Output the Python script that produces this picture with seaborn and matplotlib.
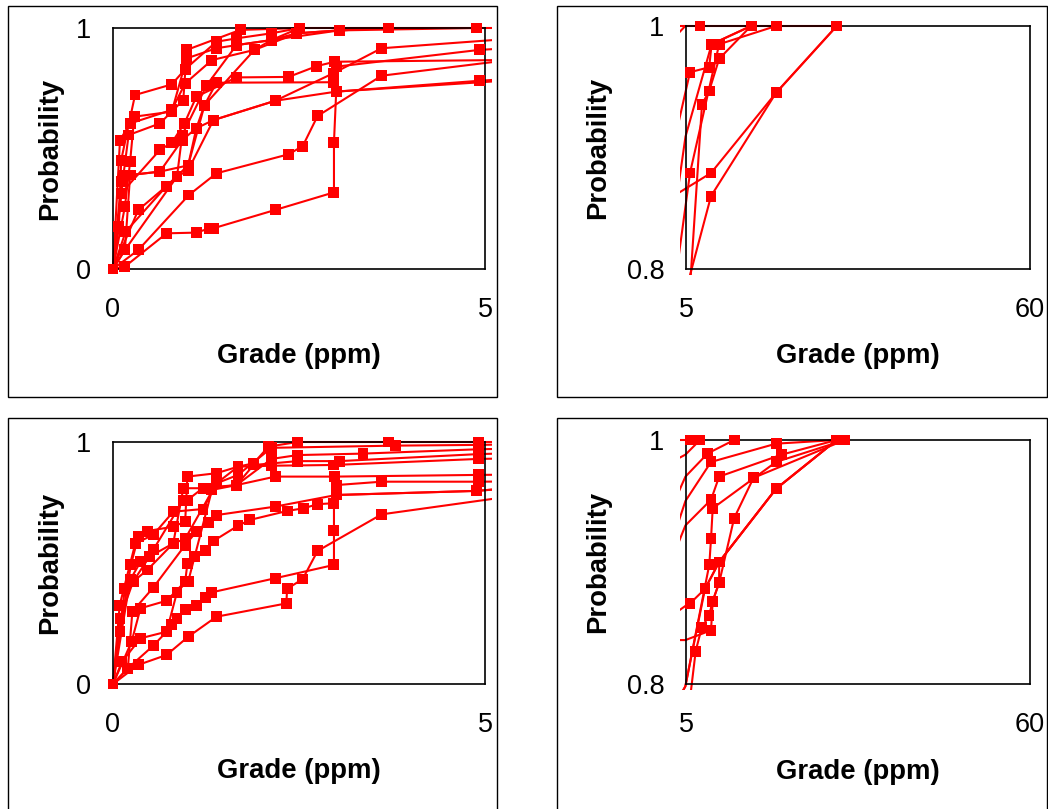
import matplotlib
matplotlib.use("Agg")
import matplotlib.pyplot as plt
from matplotlib.patches import Rectangle
import pandas as pd
import seaborn as sns

# ─────────────── Data: grade (ppm) vs cumulative probability ───────────────
top_grade = [
    [0, 0.16, 0.72, 1.12, 1.30, 1.35, 2.18, 2.97, 2.97, 3.00, 4.92, 9.0, 19.4, 29.1],
    [0, 0.34, 1.02, 1.39, 2.36, 2.55, 2.75, 3.61, 5.64, 10.3, 19.4],
    [0, 0.17, 0.72, 1.01, 1.12, 1.23, 1.39, 2.96, 3.01, 4.92, 9.1, 15.4],
    [0, 0.16, 0.86, 1.01, 1.35, 2.18, 2.96, 3.61, 5.64, 8.7, 9.1, 15.4],
    [0, 0.11, 0.63, 0.79, 0.96, 1.12, 1.66, 2.36, 2.74, 2.98, 9.0, 19.4, 29.1],
    [0, 0.08, 0.11, 0.296, 0.79, 0.97, 1.39, 1.66, 2.13, 2.51],
    [0, 0.16, 0.23, 0.286, 0.79, 0.99, 1.39, 1.66, 2.13, 2.47, 3.04, 3.70],
    [0, 0.14, 0.21, 0.63, 0.945, 0.99, 1.71, 2.51, 3.70, 4.89, 7.24, 15.4, 29.1],
    [0, 0.094, 0.23, 0.79, 0.97, 1.33, 1.9, 2.13, 3.04, 4.89],
    [0, 0.34, 0.72, 0.86, 0.93, 1.26, 1.66, 2.13, 2.51],
    [0, 0.16, 0.23, 0.63, 1.01, 1.23, 1.9, 2.47, 3.04, 3.70],
    [0, 0.11, 0.23, 0.63, 0.93, 1.12, 1.35, 2.18, 3.0, 5.7, 7.56, 8.7, 10.3, 15.4],
]
top_prob = [
    [0, 0.01, 0.148, 0.151, 0.169, 0.169, 0.245, 0.318, 0.526, 0.736, 0.781, 0.860, 0.945, 1.0],
    [0, 0.079, 0.307, 0.397, 0.476, 0.51, 0.635, 0.802, 0.879, 0.985, 1.0],
    [0, 0.155, 0.344, 0.43, 0.584, 0.68, 0.773, 0.775, 0.84, 0.909, 0.985, 1.0],
    [0, 0.079, 0.383, 0.41, 0.618, 0.698, 0.812, 0.916, 0.962, 0.966, 0.985, 1.0],
    [0, 0.314, 0.494, 0.524, 0.604, 0.715, 0.795, 0.797, 0.842, 0.86, 0.879, 0.945, 1.0],
    [0, 0.176, 0.452, 0.722, 0.766, 0.829, 0.943, 0.957, 0.978, 1.0],
    [0, 0.259, 0.445, 0.632, 0.653, 0.874, 0.916, 0.929, 0.95, 0.978, 0.99, 1.0],
    [0, 0.39, 0.556, 0.604, 0.701, 0.909, 0.992, 1.0, 1.0, 1.0, 1.0, 1.0, 1.0],
    [0, 0.535, 0.604, 0.66, 0.77, 0.867, 0.909, 0.95, 0.99, 1.0],
    [0, 0.245, 0.344, 0.383, 0.556, 0.763, 0.929, 0.95, 1.0],
    [0, 0.079, 0.39, 0.404, 0.43, 0.68, 0.909, 0.978, 0.99, 1.0],
    [0, 0.362, 0.39, 0.404, 0.535, 0.584, 0.618, 0.698, 0.736, 0.79, 0.9355, 0.9465, 0.973, 1.0],
]

bottom_grade = [
    [0, 0.34, 0.72, 1.01, 1.39, 2.33, 2.34, 2.55, 2.75, 3.61, 6.55, 7.5, 8.68, 9.27, 10.3, 10.3, 19.4, 29.1],
    [0, 0.2, 0.54, 0.72, 0.79, 0.86, 0.97, 1.12, 1.24, 1.33, 2.18, 2.97, 2.97, 2.97, 3.0, 4.89, 8.04, 10.3, 19.4, 29.1],
    [0, 0.25, 0.37, 0.72, 0.97, 1.0, 1.10, 1.24, 1.35, 1.68, 1.84, 2.34, 2.56, 2.75, 2.96, 3.0, 3.61, 4.91, 9.0, 9.27, 10.3, 12.7, 15.8, 30.4],
    [0, 0.094, 0.24, 0.34, 0.46, 0.81, 0.97, 1.0, 1.39, 1.68, 1.89, 2.09, 2.48, 3.70, 4.91, 5.75],
    [0, 0.09, 0.30, 0.54, 0.81, 1.21, 1.39, 1.68, 2.13, 3.80, 4.91, 7.24],
    [0, 0.16, 0.27, 0.49, 0.81, 0.945, 1.21, 1.33, 1.66, 2.13, 2.48, 3.36, 4.91, 8.47, 12.7],
    [0, 0.23, 0.37, 0.54, 0.945, 1.0, 1.21, 1.66, 1.89, 2.48, 3.04, 4.91, 9.0, 19.4, 29.1],
    [0, 0.2, 0.26, 0.54, 0.97, 1.12, 1.28, 1.39, 2.18, 3.0, 4.89, 8.73, 9.0, 9.27, 19.4, 30.4],
    [0, 0.094, 0.27, 0.46, 0.81, 0.97, 1.39, 1.68, 2.13, 2.96, 4.91, 9.0, 10.3, 20.3, 29.1],
    [0, 0.12, 0.37, 0.72, 0.86, 0.99, 1.01, 1.33, 1.66, 2.18, 2.98, 4.91, 5.64, 8.04, 10.3, 19.4, 29.1],
]
bottom_prob = [
    [0, 0.079, 0.12, 0.195, 0.278, 0.333, 0.393, 0.434, 0.55, 0.701, 0.827, 0.846, 0.856, 0.868, 0.883, 0.900, 0.960, 1.0],
    [0, 0.065, 0.158, 0.216, 0.244, 0.271, 0.306, 0.326, 0.357, 0.379, 0.437, 0.492, 0.633, 0.747, 0.781, 0.798, 0.878, 0.900, 0.960, 1.0],
    [0, 0.175, 0.313, 0.344, 0.423, 0.498, 0.526, 0.55, 0.591, 0.654, 0.678, 0.715, 0.726, 0.743, 0.747, 0.822, 0.836, 0.836, 0.844, 0.868, 0.883, 0.936, 0.969, 1.0],
    [0, 0.216, 0.492, 0.609, 0.632, 0.65, 0.671, 0.857, 0.871, 0.898, 0.912, 0.981, 1.0, 1.0, 1.0, 1.0],
    [0, 0.326, 0.581, 0.616, 0.712, 0.723, 0.829, 0.864, 0.976, 0.985, 0.988, 1.0],
    [0, 0.395, 0.423, 0.526, 0.581, 0.809, 0.809, 0.81, 0.822, 0.93, 0.946, 0.952, 0.97, 0.989, 1.0],
    [0, 0.43, 0.505, 0.554, 0.76, 0.76, 0.81, 0.822, 0.905, 0.921, 0.921, 0.95, 0.982, 0.997, 1.0],
    [0, 0.065, 0.299, 0.398, 0.574, 0.629, 0.668, 0.698, 0.733, 0.781, 0.798, 0.898, 0.919, 0.944, 0.982, 1.0],
    [0, 0.271, 0.423, 0.471, 0.581, 0.6, 0.829, 0.898, 0.902, 0.905, 0.93, 0.951, 0.970, 0.988, 1.0],
    [0, 0.092, 0.189, 0.216, 0.379, 0.423, 0.423, 0.802, 0.822, 0.857, 0.857, 0.864, 0.866, 0.878, 0.9, 0.96, 1.0],
]

full_xlim, full_ylim = (0, 5), (0, 1)
tail_xlim, tail_ylim = (5, 60), (0.8, 1)
full_xticks, full_yticks = [0, 5], [0, 1]
tail_xticks, tail_yticks = [5, 60], [0.8, 1]
full_yticklabels = ["0", "1"]
tail_yticklabels = ["0.8", "1"]

W, H = 1048, 809


def to_frame(grades, probs):
    rows = []
    for i, (gs, ps) in enumerate(zip(grades, probs)):
        for g, p in zip(gs, ps):
            rows.append({"series": i, "grade": g, "prob": p})
    return pd.DataFrame(rows)


def draw_panel(ax, df, xlim, ylim, xticks, yticks, yticklabels, ylab_x):
    # lines spill a few pixels past the plot area, like the original spreadsheet
    sns.lineplot(data=df, x="grade", y="prob", units="series", estimator=None,
                 sort=False, color="#ff0000", linewidth=1.5, ax=ax, legend=False)
    clip = Rectangle((-0.018, -0.025), 1.036, 1.05, transform=ax.transAxes)
    for ln in ax.lines:
        ln.set_clip_path(clip)
    inside = df[(df.grade >= xlim[0]) & (df.grade <= xlim[1])
                & (df.prob >= ylim[0]) & (df.prob <= ylim[1])]
    sns.scatterplot(data=inside, x="grade", y="prob", marker="s", s=62,
                    color="#ff0000", edgecolor="none", linewidth=0,
                    ax=ax, legend=False, clip_on=False, zorder=3)
    ax.set_xlim(*xlim)
    ax.set_ylim(*ylim)
    ax.set_xticks(xticks)
    ax.set_xticklabels([str(t) for t in xticks])
    ax.set_yticks(yticks)
    ax.set_yticklabels(yticklabels)
    ax.tick_params(axis="both", direction="out", length=6.5, width=1.0,
                   color="black", labelcolor="black", labelsize=19.5)
    ax.tick_params(axis="x", pad=14)
    ax.tick_params(axis="y", pad=9)
    for sp in ax.spines.values():
        sp.set_visible(True)
        sp.set_color("black")
        sp.set_linewidth(1.2)
    ax.set_xlabel("Grade (ppm)", fontsize=19.8, fontweight="bold", va="center", color="black")
    ax.set_ylabel("Probability", fontsize=19.8, fontweight="bold", va="center", color="black")
    ax.xaxis.set_label_coords(0.5, -0.36)
    ax.yaxis.set_label_coords(ylab_x, 0.5)
    ax.grid(False)


sns.set_style("white")
plt.rcParams["font.family"] = ["Liberation Sans", "DejaVu Sans"]
plt.rcParams["text.color"] = "black"

fig = plt.figure(figsize=(W / 100, H / 100), dpi=100)

# ─────────────── Panel frames (chart areas) ───────────────
for x0, y0, x1, y1 in [(8, 6, 497, 397), (557, 6, 1047, 397),
                       (8, 418, 497, 810), (557, 418, 1047, 810)]:
    fig.add_artist(Rectangle((x0 / W, 1 - y1 / H), (x1 - x0) / W, (y1 - y0) / H,
                             transform=fig.transFigure, fill=False,
                             edgecolor="black", linewidth=1.0))

# ─────────────── Axes placement in pixels: left, top, right, bottom ───────────────
boxes = {
    "tl": (113, 28, 485, 269),
    "tr": (686, 26, 1030, 269),
    "bl": (113, 442, 485, 684),
    "br": (686, 440, 1030, 684),
}
axes = {}
for key, (l, t, r, b) in boxes.items():
    axes[key] = fig.add_axes([l / W, 1 - b / H, (r - l) / W, (b - t) / H])

top_df = to_frame(top_grade, top_prob)
bottom_df = to_frame(bottom_grade, bottom_prob)

draw_panel(axes["tl"], top_df, full_xlim, full_ylim, full_xticks, full_yticks, full_yticklabels, -0.17)
draw_panel(axes["tr"], top_df, tail_xlim, tail_ylim, tail_xticks, tail_yticks, tail_yticklabels, -0.256)
draw_panel(axes["bl"], bottom_df, full_xlim, full_ylim, full_xticks, full_yticks, full_yticklabels, -0.17)
draw_panel(axes["br"], bottom_df, tail_xlim, tail_ylim, tail_xticks, tail_yticks, tail_yticklabels, -0.256)

fig.savefig("out.png", dpi=100)
